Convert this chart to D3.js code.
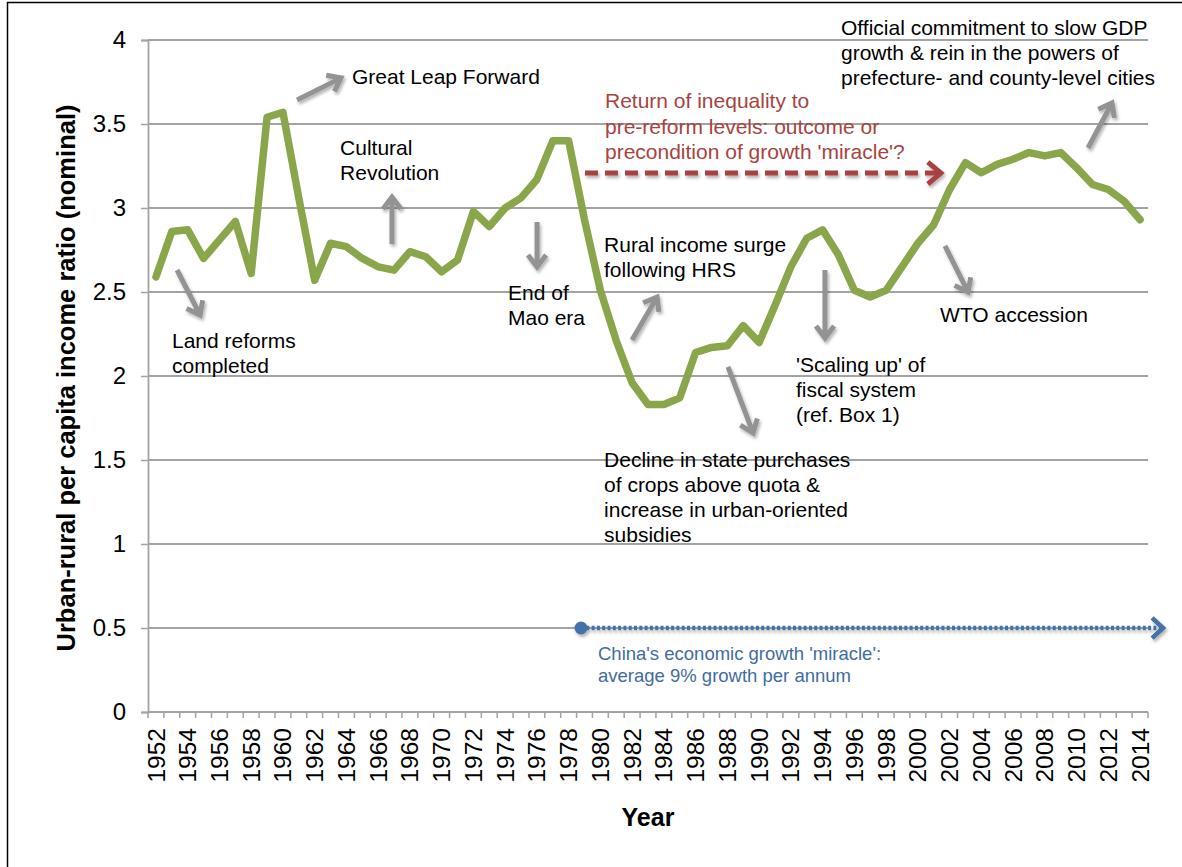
<!DOCTYPE html>
<html>
<head>
<meta charset="utf-8">
<script src="https://cdn.jsdelivr.net/npm/d3@7"></script>
<style>
  body { margin: 0; background: #fff; }
  text { font-family: "Liberation Sans", Arial, sans-serif; }
</style>
</head>
<body>
<div id="chart"></div>
<script>
// categories
var years = d3.range(1952, 2015);
// urban-rural per capita income ratio (nominal), one per year
var ratio = [2.59, 2.86, 2.87, 2.70, 2.81, 2.92, 2.61, 3.54, 3.57, 3.06,
             2.57, 2.79, 2.77, 2.70, 2.65, 2.63, 2.74, 2.71, 2.62, 2.69,
             2.98, 2.89, 3.00, 3.06, 3.17, 3.40, 3.40, 2.93, 2.51, 2.21,
             1.96, 1.83, 1.83, 1.87, 2.14, 2.17, 2.18, 2.30, 2.20, 2.42,
             2.65, 2.82, 2.87, 2.72, 2.51, 2.47, 2.51, 2.65, 2.79, 2.90,
             3.11, 3.27, 3.21, 3.26, 3.29, 3.33, 3.31, 3.33, 3.24, 3.14,
             3.11, 3.04, 2.93];
var yTicks = [0, 0.5, 1, 1.5, 2, 2.5, 3, 3.5, 4];
var yearLabels = years.filter(function(y){ return (y - 1952) % 2 === 0; });

// annotations, anchored in (year, ratio) space
var notes = [
    {lines: ['Great Leap Forward'], at: [1964.35, 3.738]},
    {lines: ['Cultural', 'Revolution'], at: [1963.6, 3.315]},
    {lines: ['Land reforms', 'completed'], at: [1953.01, 2.167]},
    {lines: ['End of', 'Mao era'], at: [1974.18, 2.452]},
    {lines: ['Rural income surge', 'following HRS'], at: [1980.23, 2.738]},
    {lines: ['Decline in state purchases', 'of crops above quota &', 'increase in urban-oriented', 'subsidies'], at: [1980.23, 1.458]},
    {lines: ["'Scaling up' of", 'fiscal system', '(ref. Box 1)'], at: [1992.32, 2.024]},
    {lines: ['WTO accession'], at: [2001.4, 2.321]},
    {lines: ['Official commitment to slow GDP', 'growth & rein in the powers of', 'prefecture- and county-level cities'], at: [1995.16, 4.03]}
];
var arrows = [
    [1960.89, 3.643, 1963.66, 3.774],
    [1966.87, 2.786, 1966.87, 3.065],
    [1953.33, 2.631, 1954.78, 2.363],
    [1976.01, 2.917, 1976.01, 2.649],
    [1981.99, 2.214, 1983.57, 2.470],
    [1988.04, 2.054, 1989.62, 1.661],
    [1994.15, 2.631, 1994.15, 2.226],
    [2001.71, 2.774, 2003.16, 2.500],
    [2010.72, 3.357, 2012.23, 3.625]
];
var redNote = ['Return of inequality to', 'pre-reform levels: outcome or', "precondition of growth 'miracle'?"];
var redArrow = [1979.03, 3.208, 2001.45, 3.208];
var blueNote = ["China's economic growth 'miracle':", 'average 9% growth per annum'];
var blueArrow = [1978.78, 0.5, 2015.45, 0.5];

var W = 1182, H = 867;
var plot = {left: 148, right: 1148, top: 40, bottom: 712};

var svg = d3.select('#chart').append('svg')
    .attr('width', W)
    .attr('height', H);

var defs = svg.append('defs');
var shadow = defs.append('filter').attr('id', 'shadow')
    .attr('x', '-50%').attr('y', '-50%').attr('width', '200%').attr('height', '200%');
shadow.append('feDropShadow')
    .attr('dx', 1.5).attr('dy', 2.5).attr('stdDeviation', 1.8)
    .attr('flood-color', '#000').attr('flood-opacity', 0.3);

// outer frame
svg.append('rect')
    .attr('x', 7.5).attr('y', 2.5)
    .attr('width', 1300).attr('height', 1000)
    .attr('fill', 'none').attr('stroke', '#000').attr('stroke-width', 1.5);

var x = d3.scaleBand().domain(years).range([plot.left, plot.right]).padding(0);
// continuous version of the same axis, for annotations
var xl = d3.scaleLinear().domain([1951.5, 2014.5]).range([plot.left, plot.right]);
var y = d3.scaleLinear().domain([0, 4]).range([plot.bottom, plot.top]);

// gridlines
svg.append('g').selectAll('line').data(yTicks.slice(1)).enter()
    .append('line')
    .attr('x1', plot.left).attr('x2', plot.right)
    .attr('y1', function(d){ return y(d); })
    .attr('y2', function(d){ return y(d); })
    .attr('stroke', '#a3a3a3').attr('stroke-width', 1.8);

// y axis
var yAxis = svg.append('g')
    .attr('transform', 'translate(' + plot.left + ',0)')
    .call(d3.axisLeft(y).tickValues(yTicks).tickSize(7).tickPadding(15)
        .tickFormat(function(d){ return d; }));
yAxis.select('.domain').attr('stroke', '#a3a3a3').attr('stroke-width', 1.8);
yAxis.selectAll('.tick line').attr('stroke', '#a3a3a3').attr('stroke-width', 1.5);
yAxis.selectAll('.tick text')
    .attr('font-size', 24).attr('fill', '#000')
    .style('font-family', '"Liberation Sans", Arial, sans-serif');

// x axis: ticks at category boundaries, labels every other year
var xg = svg.append('g');
xg.append('line')
    .attr('x1', plot.left).attr('x2', plot.right)
    .attr('y1', plot.bottom).attr('y2', plot.bottom)
    .attr('stroke', '#a3a3a3').attr('stroke-width', 1.8);
xg.selectAll('line.tk').data(years.concat([2015])).enter()
    .append('line').attr('class', 'tk')
    .attr('x1', function(d){ return d === 2015 ? plot.right : x(d); })
    .attr('x2', function(d){ return d === 2015 ? plot.right : x(d); })
    .attr('y1', plot.bottom).attr('y2', plot.bottom + 6)
    .attr('stroke', '#a3a3a3').attr('stroke-width', 1.5);
xg.selectAll('text').data(yearLabels).enter()
    .append('text')
    .attr('transform', function(d){
        return 'translate(' + (x(d) + x.bandwidth() / 2) + ',' + (plot.bottom + 16) + ') rotate(-90)';
    })
    .attr('dy', '0.35em')
    .attr('text-anchor', 'end')
    .attr('font-size', 24.5)
    .text(function(d){ return d; });

// axis titles
svg.append('text')
    .attr('transform', 'translate(75,' + ((plot.top + plot.bottom) / 2 + 2) + ') rotate(-90)')
    .attr('text-anchor', 'middle')
    .attr('font-size', 25.5).attr('font-weight', 'bold')
    .text('Urban-rural per capita income ratio (nominal)');
svg.append('text')
    .attr('x', (plot.left + plot.right) / 2).attr('y', 826)
    .attr('text-anchor', 'middle')
    .attr('font-size', 25).attr('font-weight', 'bold')
    .text('Year');

// the series
var line = d3.line()
    .x(function(d, i){ return x(years[i]) + x.bandwidth() / 2; })
    .y(function(d){ return y(d); });
svg.append('path')
    .datum(ratio)
    .attr('d', line)
    .attr('fill', 'none')
    .attr('stroke', '#8aa64b')
    .attr('stroke-width', 7.5)
    .attr('stroke-linejoin', 'round')
    .attr('stroke-linecap', 'round');

// arrow helper: shaft + open chevron head
function arrowPath(a, arm, spread){
    var x1 = xl(a[0]), y1 = y(a[1]), x2 = xl(a[2]), y2 = y(a[3]);
    var ang = Math.atan2(y2 - y1, x2 - x1);
    var p1 = [x2 - arm * Math.cos(ang - spread), y2 - arm * Math.sin(ang - spread)];
    var p2 = [x2 - arm * Math.cos(ang + spread), y2 - arm * Math.sin(ang + spread)];
    return {
        shaft: 'M' + x1 + ',' + y1 + 'L' + (x2 - 2 * Math.cos(ang)) + ',' + (y2 - 2 * Math.sin(ang)),
        head: 'M' + p1[0] + ',' + p1[1] + 'L' + x2 + ',' + y2 + 'L' + p2[0] + ',' + p2[1]
    };
}

var ag = svg.append('g').attr('filter', 'url(#shadow)');
arrows.forEach(function(a){
    var p = arrowPath(a, 15, 0.65);
    ag.append('path').attr('d', p.shaft + p.head)
        .attr('fill', 'none').attr('stroke', '#939393')
        .attr('stroke-width', 5).attr('stroke-linejoin', 'miter');
});

// red dashed arrow
var rp = arrowPath(redArrow, 17, 0.7);
var rg = svg.append('g').attr('filter', 'url(#shadow)');
rg.append('path').attr('d', rp.shaft)
    .attr('fill', 'none').attr('stroke', '#a8433f')
    .attr('stroke-width', 5).attr('stroke-dasharray', '13,7');
rg.append('path').attr('d', rp.head)
    .attr('fill', 'none').attr('stroke', '#a8433f').attr('stroke-width', 5);

// blue dotted arrow
var bp = arrowPath(blueArrow, 15, 0.75);
var bg = svg.append('g').attr('filter', 'url(#shadow)');
bg.append('path').attr('d', bp.shaft)
    .attr('fill', 'none').attr('stroke', '#4471a6')
    .attr('stroke-width', 4.5).attr('stroke-dasharray', '3,2.3');
bg.append('path').attr('d', bp.head)
    .attr('fill', 'none').attr('stroke', '#4471a6').attr('stroke-width', 4.5);
bg.append('circle')
    .attr('cx', xl(blueArrow[0])).attr('cy', y(blueArrow[1]))
    .attr('r', 6.5).attr('fill', '#4471a6');

// text blocks
function block(lines, at, size, lh, color){
    var t = svg.append('text')
        .attr('x', xl(at[0])).attr('y', y(at[1]))
        .attr('font-size', size).attr('fill', color);
    t.selectAll('tspan').data(lines).enter()
        .append('tspan')
        .attr('x', xl(at[0]))
        .attr('dy', function(d, i){ return i === 0 ? 0 : lh; })
        .text(function(d){ return d; });
}
notes.forEach(function(n){ block(n.lines, n.at, 21, 25, '#000'); });
block(redNote, [1980.29, 3.595], 21, 25.5, '#a8433f');
block(blueNote, [1979.85, 0.31], 18.5, 22, '#3f6ca3');
</script>
</body>
</html>
